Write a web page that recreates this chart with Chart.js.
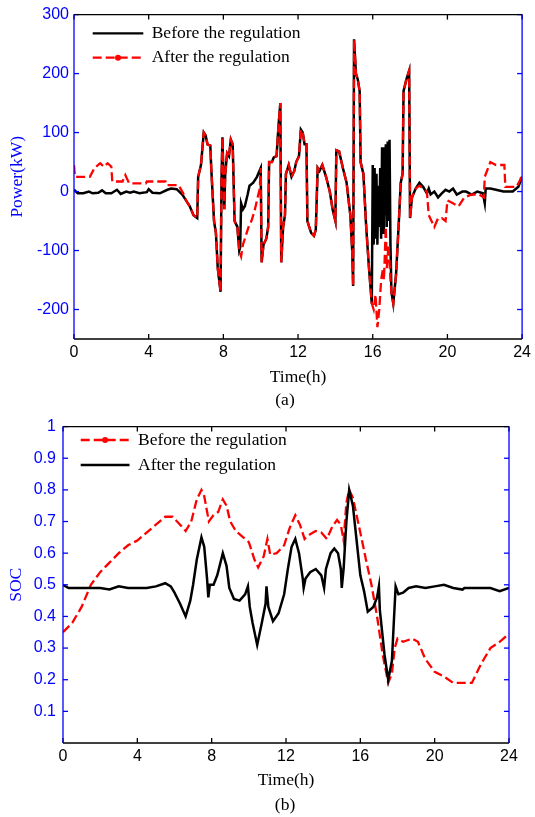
<!DOCTYPE html>
<html lang="en">
<head>
  <meta charset="UTF-8" />
  <title>Power and SOC before / after the regulation</title>
  <script src="https://cdn.jsdelivr.net/npm/chart.js"></script>
  <style>
    body { margin: 0; background: #fff; }
    .panel { position: absolute; left: 0; }
    #panelA { top: 0; }
    #panelB { top: 410px; }
    canvas { display: block; }
  </style>
</head>
<body>

<div class="panel" id="panelA"><canvas id="chartPower" width="535" height="410"></canvas></div>
<div class="panel" id="panelB"><canvas id="chartSoc" width="535" height="407"></canvas></div>

<script>
  // (a) Power, black = before, red = after
  const timeBefore = [
    0, 0.2, 0.5, 0.8, 1.0, 1.3, 1.5, 1.7, 2.0, 2.3, 2.5, 2.8, 3.0, 3.2, 3.5, 3.9, 4.0, 4.2, 4.6, 5.0, 5.2, 5.5, 5.8,
    6.0, 6.2, 6.4, 6.6, 6.65, 6.8, 6.95, 7.05, 7.15, 7.3, 7.35, 7.5, 7.6, 7.7, 7.85, 7.9, 7.95, 8.0, 8.05, 8.1, 8.2, 8.3, 8.4, 8.5,
    8.6, 8.75, 8.85, 8.9, 8.95, 9.05, 9.15, 9.3, 9.4, 9.6, 9.8, 10.0,
    10.05, 10.15, 10.3, 10.4, 10.45, 10.6, 10.7, 10.85, 10.95, 11.05, 11.1, 11.2, 11.3, 11.35, 11.5, 11.65, 11.8, 11.9,
    12.05, 12.15, 12.25, 12.35, 12.45, 12.5, 12.7, 12.85, 12.95, 13.05, 13.15, 13.3, 13.5, 13.7, 13.85, 14.0, 14.05, 14.2,
    14.4, 14.6, 14.8, 14.9, 14.95, 15.0, 15.1, 15.2, 15.3, 15.35, 15.5, 15.65, 15.8, 15.95,
    16.0, 16.05, 16.1, 16.15, 16.2, 16.25, 16.3, 16.35, 16.4, 16.45, 16.5, 16.55, 16.6, 16.65, 16.7, 16.75, 16.8, 16.85, 16.9, 16.95,
    17.0, 17.1, 17.25, 17.4, 17.5, 17.6, 17.65, 17.8, 17.95, 18.0, 18.1, 18.3, 18.5, 18.7, 18.9, 19.0, 19.1, 19.3, 19.5, 19.7, 19.9,
    20.1, 20.3, 20.5, 20.8, 21.0, 21.3, 21.6, 21.9, 22.0, 22.05, 22.3, 22.6, 23.0, 23.5, 23.8, 24.0
  ];
  const powerBefore = [
    3, -3, -3, 0, -3, -2, 2, -3, -3, 3, -4, 0, -2, 0, -3, -1, 4, -2, -3, 3, 5, 4, -5,
    -15, -25, -40, -45, 25, 45, 100, 95, 80, 78, 40, -50, -70, -130, -170, 20, 92, 30, -30, 30, 65, 60, 88, 80,
    -50, -60, -100, -95, -20, -30, -25, -5, 10, 15, 25, 40,
    -120, -90, -80, -60, 50, 50, 58, 60, 110, 150, -120, -60, -40, 30, 45, 25, 35, 50,
    60, 105, 100, 80, 80, -50, -70, -75, -65, 40, 35, 45, 25, 0, -30, -50, 70, 68,
    40, 15, -40, -100, -160, 258, 200, 190, 170, 50, 30, -60, -130, -190,
    45, -90, 40, -80, 30, -90, 10, -60, 40, -80, 75, -70, 75, -40, 80, -60, 85, -50, 88, -90,
    -170, -190, -140, -50, 15, 30, 170, 190, 205, -45, -10, 5, 15, 8, -3, 5, -5, 0, -10, -3, 3,
    0, 5, -5, 0, 0, -5, 0, -3, -20, 5, 5, 3, 0, 0, 8, 25
  ];

  const timeAfter = [
    0, 0.05, 0.5, 0.85, 1.1, 1.4, 1.6, 1.8, 2.0, 2.05, 2.6, 2.75, 2.95, 3.85, 3.9, 4.9, 4.95, 5.6, 5.85,
    6.0, 6.2, 6.4, 6.6, 6.65, 6.8, 6.95, 7.05, 7.15, 7.3, 7.35, 7.5, 7.6, 7.7, 7.85, 7.9, 7.95, 8.0, 8.05, 8.1, 8.2, 8.3, 8.4, 8.5,
    8.6, 8.75, 8.85, 8.95, 9.05, 9.2, 9.35, 9.5, 9.65, 9.8, 9.95, 10.0,
    10.05, 10.15, 10.3, 10.4, 10.45, 10.6, 10.7, 10.85, 10.95, 11.05, 11.1, 11.2, 11.3, 11.35, 11.5, 11.65, 11.8, 11.9,
    12.05, 12.15, 12.25, 12.35, 12.45, 12.5, 12.7, 12.85, 12.95, 13.05, 13.15, 13.3, 13.5, 13.7, 13.85, 14.0, 14.05, 14.2,
    14.4, 14.6, 14.8, 14.9, 14.95, 15.0, 15.1, 15.2, 15.3, 15.35, 15.5, 15.65, 15.8, 15.95,
    16.05, 16.15, 16.25, 16.35, 16.45, 16.55, 16.6, 16.7, 16.75, 16.85, 16.95,
    17.0, 17.1, 17.25, 17.4, 17.5, 17.6, 17.65, 17.8, 17.95, 18.0, 18.1, 18.3, 18.5, 18.7, 18.9, 19.0, 19.3, 19.5, 19.7, 19.9,
    20.0, 20.3, 20.6, 20.9, 21.3, 21.7, 21.95, 22.0, 22.3, 22.6, 23.05, 23.1, 23.7, 23.9, 24.0
  ];
  const powerAfter = [
    45, 25, 25, 25, 40, 48, 42, 48, 42, 17, 17, 28, 14, 14, 17, 17, 11, 11, -3,
    -15, -25, -40, -45, 25, 45, 100, 95, 80, 78, 40, -50, -70, -130, -170, 20, 92, 30, -30, 30, 65, 60, 88, 80,
    -50, -60, -100, -110, -90, -75, -60, -50, -35, -15, 5, 40,
    -120, -90, -80, -60, 50, 50, 58, 60, 110, 150, -120, -60, -40, 30, 45, 25, 35, 50,
    60, 105, 100, 80, 80, -50, -70, -75, -65, 40, 35, 45, 25, 0, -30, -50, 70, 68,
    40, 15, -40, -100, -160, 258, 200, 190, 170, 50, 30, -60, -130, -190,
    -200, -175, -230, -200, -150, -130, -150, -60, -130, -90, -150,
    -170, -190, -140, -50, 15, 30, 170, 190, 205, -45, -10, 5, 10, 5, 0, -40, -60, -45, -45, -50,
    -15, -20, -25, -10, -5, -5, -10, 25, 50, 45, 45, 8, 8, 20, 30
  ];

  // (b) SOC, red = before, black = after
  const timeSocBefore = [
    0, 0.5, 1.0, 1.5, 2.0, 2.5, 3.0, 3.5, 4.0, 4.5, 5.0, 5.5, 5.9, 6.3, 6.6, 6.9, 7.2, 7.45, 7.6, 7.85,
    8.1, 8.35, 8.6, 8.8, 9.0, 9.3, 9.7, 10.0, 10.3, 10.5, 10.8, 11.0, 11.15, 11.5, 11.9, 12.2, 12.5, 12.75,
    13.0, 13.3, 13.6, 13.9, 14.2, 14.5, 14.75, 14.95, 15.1, 15.25, 15.4, 15.6, 15.8, 16.0, 16.3, 16.6, 16.9,
    17.2, 17.5, 17.7, 17.85, 18.0, 18.3, 18.8, 19.1, 19.5, 20.0, 20.5, 21.0, 21.5, 22.0, 22.5, 23.0, 23.5, 24.0
  ];
  const socBefore = [
    0.35, 0.38, 0.43, 0.50, 0.54, 0.57, 0.60, 0.625, 0.64, 0.665, 0.69, 0.715, 0.715, 0.69, 0.67, 0.70, 0.77, 0.80, 0.78, 0.70,
    0.72, 0.73, 0.77, 0.75, 0.70, 0.67, 0.65, 0.635, 0.58, 0.555, 0.59, 0.645, 0.595, 0.60, 0.625, 0.68, 0.72, 0.69,
    0.645, 0.66, 0.67, 0.665, 0.645, 0.685, 0.705, 0.69, 0.64, 0.76, 0.80, 0.775, 0.72, 0.665, 0.58, 0.50, 0.40,
    0.28, 0.19, 0.22, 0.30, 0.33, 0.32, 0.33, 0.32, 0.265, 0.225, 0.21, 0.19, 0.19, 0.19, 0.25, 0.30, 0.32, 0.345
  ];

  const timeSocAfter = [
    0, 0.3, 1.0, 1.5, 2.0, 2.5, 3.0, 3.5, 4.0, 4.5, 5.0, 5.5, 5.8, 6.0, 6.3, 6.6, 6.85, 7.0, 7.2, 7.45, 7.6, 7.75, 7.82, 7.9,
    8.1, 8.3, 8.6, 8.8, 8.95, 9.2, 9.5, 9.8, 9.95, 10.05, 10.2, 10.45, 10.7, 10.9, 10.95, 11.05, 11.3, 11.6, 11.9,
    12.1, 12.3, 12.5, 12.7, 12.9, 12.95, 13.05, 13.3, 13.6, 13.9, 14.05, 14.15, 14.4, 14.6, 14.8, 14.95,
    15.0, 15.1, 15.25, 15.4, 15.6, 15.8, 16.0, 16.2, 16.4, 16.7, 16.9, 17.0, 17.05, 17.3, 17.5, 17.7, 17.8, 17.9,
    18.05, 18.3, 18.6, 19.0, 19.5, 20.0, 20.5, 21.0, 21.5, 21.6, 22.0, 22.5, 23.0, 23.5, 24.0
  ];
  const socAfter = [
    0.50, 0.49, 0.49, 0.49, 0.49, 0.485, 0.495, 0.49, 0.49, 0.49, 0.495, 0.505, 0.495, 0.475, 0.44, 0.40, 0.45, 0.50, 0.58, 0.65, 0.62, 0.52, 0.46, 0.50,
    0.50, 0.53, 0.60, 0.56, 0.49, 0.455, 0.45, 0.47, 0.495, 0.43, 0.38, 0.31, 0.38, 0.44, 0.495, 0.43, 0.385, 0.41, 0.47,
    0.55, 0.62, 0.645, 0.60, 0.52, 0.49, 0.52, 0.54, 0.55, 0.53, 0.49, 0.55, 0.60, 0.615, 0.60, 0.55,
    0.49, 0.55, 0.70, 0.80, 0.75, 0.64, 0.53, 0.48, 0.415, 0.43, 0.46, 0.495, 0.42, 0.28, 0.20, 0.26, 0.38, 0.495,
    0.47, 0.475, 0.49, 0.495, 0.49, 0.495, 0.50, 0.49, 0.485, 0.49, 0.49, 0.49, 0.49, 0.48, 0.49
  ];

  const hourTicks = [0, 4, 8, 12, 16, 20, 24];
  const powerTicks = [-200, -100, 0, 100, 200, 300];
  const socTicks = [0.1, 0.2, 0.3, 0.4, 0.5, 0.6, 0.7, 0.8, 0.9, 1];
  const socTickLabels = ['0.1', '0.2', '0.3', '0.4', '0.5', '0.6', '0.7', '0.8', '0.9', '1'];
  const legendLabels = ['Before the regulation', 'After the regulation'];

  const BLUE = '#0000ff';
  const RED = '#ff0000';
  const BLACK = '#000000';
  const SANS = '"Liberation Sans", Arial, sans-serif';
  const SERIF = '"Liberation Serif", "Times New Roman", serif';
  const DASH = [9, 4];

  const toPoints = (xs, ys) => xs.map((t, i) => ({ x: t, y: ys[i] }));

  // marco estilo matlab: ticks hacia dentro, ejes azules a los lados, leyenda y rotulo
  const matlabFrame = {
    id: 'matlabFrame',
    afterDraw(chart, args, o) {
      const { ctx, chartArea: a, scales: { x, y } } = chart;
      const seg = (x1, y1, x2, y2, c) => {
        ctx.strokeStyle = c;
        ctx.beginPath();
        ctx.moveTo(x1, y1);
        ctx.lineTo(x2, y2);
        ctx.stroke();
      };
      ctx.save();
      ctx.lineWidth = 1.3;
      x.ticks.forEach(t => {
        const px = x.getPixelForValue(t.value);
        seg(px, a.bottom, px, a.bottom - 5, BLACK);
        seg(px, a.top, px, a.top + 5, BLACK);
      });
      y.ticks.forEach(t => {
        const py = y.getPixelForValue(t.value);
        seg(a.left, py, a.left + 5, py, BLUE);
        seg(a.right, py, a.right - 5, py, BLUE);
      });
      seg(a.left, a.top, a.right, a.top, BLACK);
      seg(a.left, a.bottom, a.right, a.bottom, BLACK);
      seg(a.left, a.top, a.left, a.bottom, BLUE);
      seg(a.right, a.top, a.right, a.bottom, BLUE);

      ctx.font = '17.5px ' + SERIF;
      ctx.textBaseline = 'middle';
      o.items.forEach((it, i) => {
        const ly = o.y + i * o.gap;
        ctx.lineWidth = 2.3;
        ctx.setLineDash(it.dash);
        seg(o.x, ly, o.x + o.len, ly, it.color);
        ctx.setLineDash([]);
        if (it.dot) {
          ctx.fillStyle = it.color;
          ctx.beginPath();
          ctx.arc(o.x + o.len / 2, ly, 3, 0, Math.PI * 2);
          ctx.fill();
        }
        ctx.fillStyle = BLACK;
        ctx.textAlign = 'left';
        ctx.fillText(it.text, o.x + o.len + o.textGap, ly);
      });

      ctx.textAlign = 'center';
      ctx.fillStyle = BLACK;
      ctx.fillText(o.caption, o.capX, o.capY);
      ctx.restore();
    }
  };

  function xScale(height, titleBottom) {
    return {
      type: 'linear',
      min: 0,
      max: 24,
      afterBuildTicks: s => { s.ticks = hourTicks.map(v => ({ value: v })); },
      afterFit: s => { s.height = height; },
      grid: { display: false, drawTicks: false },
      border: { display: false },
      ticks: { color: BLACK, font: { family: SANS, size: 16 }, padding: 4, maxRotation: 0 },
      title: {
        display: true,
        text: 'Time(h)',
        color: BLACK,
        font: { family: SERIF, size: 17.5 },
        padding: { top: 0, bottom: titleBottom }
      }
    };
  }

  // (a)
  new Chart(document.getElementById('chartPower').getContext('2d'), {
    type: 'line',
    data: {
      datasets: [
        {
          label: legendLabels[1],
          data: toPoints(timeAfter, powerAfter),
          borderColor: RED,
          borderWidth: 2.3,
          borderDash: DASH,
          pointRadius: 0,
          tension: 0,
          order: 0
        },
        {
          label: legendLabels[0],
          data: toPoints(timeBefore, powerBefore),
          borderColor: BLACK,
          borderWidth: 2.5,
          pointRadius: 0,
          tension: 0,
          order: 1
        }
      ]
    },
    options: {
      responsive: false,
      animation: false,
      layout: { padding: { left: 0, right: 9, top: 13, bottom: 0 } },
      plugins: {
        legend: { display: false },
        tooltip: { enabled: false },
        matlabFrame: {
          x: 92.7, y: 33.3, gap: 24.4, len: 50.6, textGap: 8.4,
          items: [
            { text: legendLabels[0], color: BLACK, dash: [], dot: false },
            { text: legendLabels[1], color: RED, dash: DASH, dot: true }
          ],
          caption: '(a)', capX: 285, capY: 400
        }
      },
      scales: {
        x: xScale(71, 22.5),
        y: {
          min: -250,
          max: 300,
          afterBuildTicks: s => { s.ticks = powerTicks.map(v => ({ value: v })); },
          afterFit: s => { s.width = 74; },
          grid: { display: false, drawTicks: false },
          border: { display: false },
          ticks: { color: BLUE, font: { family: SANS, size: 16 }, padding: 5 },
          title: {
            display: true,
            text: 'Power(kW)',
            color: BLUE,
            font: { family: SERIF, size: 17.5 },
            padding: { top: 7, bottom: 0 }
          }
        }
      }
    },
    plugins: [matlabFrame]
  });

  // (b)
  new Chart(document.getElementById('chartSoc').getContext('2d'), {
    type: 'line',
    data: {
      datasets: [
        {
          label: legendLabels[1],
          data: toPoints(timeSocAfter, socAfter),
          borderColor: BLACK,
          borderWidth: 2.5,
          pointRadius: 0,
          tension: 0,
          order: 0
        },
        {
          label: legendLabels[0],
          data: toPoints(timeSocBefore, socBefore),
          borderColor: RED,
          borderWidth: 2.3,
          borderDash: DASH,
          pointRadius: 0,
          tension: 0,
          order: 1
        }
      ]
    },
    options: {
      responsive: false,
      animation: false,
      layout: { padding: { left: 0, right: 26, top: 12, bottom: 0 } },
      plugins: {
        legend: { display: false },
        tooltip: { enabled: false },
        matlabFrame: {
          x: 80.7, y: 30, gap: 25, len: 48.8, textGap: 8.5,
          items: [
            { text: legendLabels[0], color: RED, dash: DASH, dot: true },
            { text: legendLabels[1], color: BLACK, dash: [], dot: false }
          ],
          caption: '(b)', capX: 285, capY: 395
        }
      },
      scales: {
        x: xScale(74, 26.5),
        y: {
          min: 0,
          max: 1,
          afterBuildTicks: s => { s.ticks = socTicks.map(v => ({ value: v })); },
          afterFit: s => { s.width = 63; },
          grid: { display: false, drawTicks: false },
          border: { display: false },
          ticks: {
            color: BLUE,
            font: { family: SANS, size: 16 },
            padding: 7,
            callback: (v, i) => socTickLabels[i]
          },
          title: {
            display: true,
            text: 'SOC',
            color: BLUE,
            font: { family: SERIF, size: 17.5 },
            padding: { top: 5.5, bottom: 0 }
          }
        }
      }
    },
    plugins: [matlabFrame]
  });
</script>

</body>
</html>
